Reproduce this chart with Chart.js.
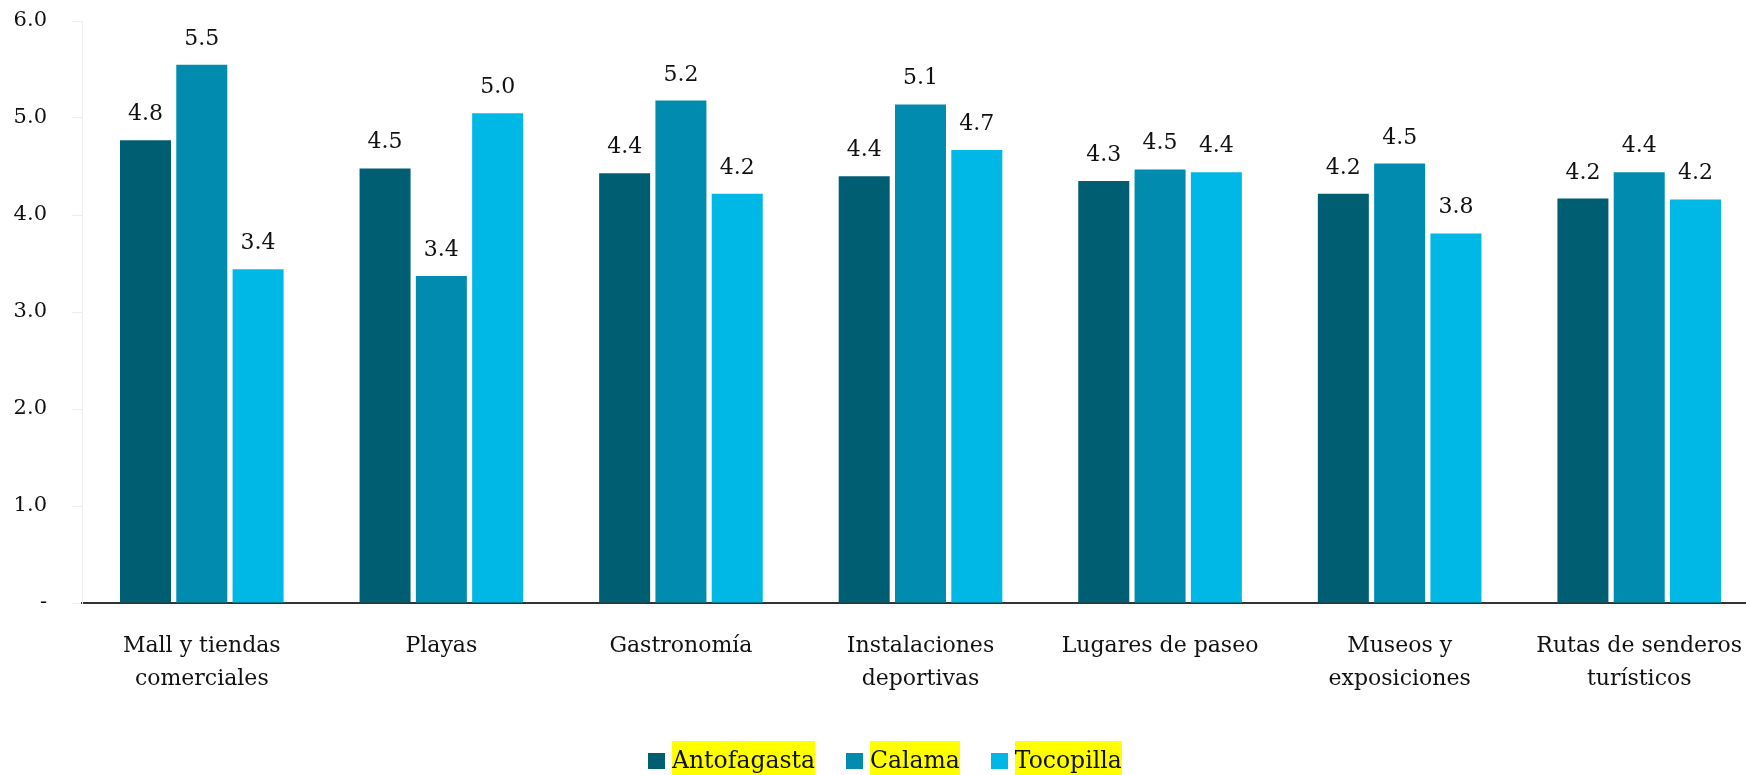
<!DOCTYPE html>
<html>
<head>
<meta charset="utf-8">
<script src="https://cdn.jsdelivr.net/npm/chart.js@4/dist/chart.umd.min.js"></script>
<style>
  html, body { margin: 0; padding: 0; background: #fff; overflow: hidden; }
  #wrap { position: relative; width: 1746px; height: 775px; overflow: hidden; }
  #c { position: absolute; left: 0; top: 0; }
  #legend { position: absolute; left: 648px; top: 741px; height: 38px; display: flex; align-items: flex-start;
            font-family: "DejaVu Serif", serif; font-size: 23.5px; color: #111; white-space: nowrap; }
  .item { display: flex; align-items: flex-start; margin-right: 31px; }
  .box { width: 17px; height: 16px; margin-right: 7px; margin-top: 12px; flex: none; }
  .txt { background: #ffff00; line-height: 38px; height: 38px; display: inline-block; }
</style>
</head>
<body>
<div id="wrap">
  <canvas id="c" width="1759" height="775"></canvas>
  <div id="legend"></div>
</div>
<script>
const categories = [
  ["Mall y tiendas", "comerciales"],
  ["Playas"],
  ["Gastronomía"],
  ["Instalaciones", "deportivas"],
  ["Lugares de paseo"],
  ["Museos y", "exposiciones"],
  ["Rutas de senderos", "turísticos"]
];
const seriesNames = ["Antofagasta", "Calama", "Tocopilla"];
const antofagasta = [4.77, 4.48, 4.43, 4.40, 4.35, 4.22, 4.17];
const calama      = [5.55, 3.37, 5.18, 5.14, 4.47, 4.53, 4.44];
const tocopilla   = [3.44, 5.05, 4.22, 4.67, 4.44, 3.81, 4.16];
const seriesColors = ["#005e73", "#008baf", "#00b8e6"];
const yTicks = [0, 1, 2, 3, 4, 5, 6];

const FONT = "DejaVu Serif";
const values = [antofagasta, calama, tocopilla];

const dataLabelPlugin = {
  id: 'dataLabels',
  afterDatasetsDraw(chart) {
    const ctx = chart.ctx;
    ctx.save();
    ctx.font = `22px "${FONT}"`;
    ctx.fillStyle = '#111';
    ctx.textAlign = 'center';
    ctx.textBaseline = 'alphabetic';
    chart.data.datasets.forEach((ds, i) => {
      chart.getDatasetMeta(i).data.forEach((bar, j) => {
        ctx.fillText(ds.data[j].toFixed(1), bar.x, bar.y - 20);
      });
    });
    ctx.restore();
  }
};

const chart = new Chart(document.getElementById('c'), {
  type: 'bar',
  data: {
    labels: categories,
    datasets: seriesNames.map((n, i) => ({
      label: n,
      data: values[i],
      backgroundColor: seriesColors[i],
      borderWidth: 0,
      categoryPercentage: 0.705,
      barPercentage: 0.906
    }))
  },
  options: {
    responsive: false,
    animation: false,
    layout: { padding: { top: 21, right: 0, bottom: 50, left: 0 } },
    plugins: { legend: { display: false }, tooltip: { enabled: false } },
    scales: {
      x: {
        grid: { display: false, drawTicks: false },
        border: { display: true, color: '#333', width: 2 },
        ticks: { color: '#111', font: { family: FONT, size: 22, lineHeight: 1.5 }, padding: 27, maxRotation: 0, autoSkip: false },
        afterFit(s) { s.height = 775 - 50 - 603; s.paddingLeft = 0; s.paddingRight = 0; }
      },
      y: {
        min: 0, max: 6,
        afterBuildTicks(s) { s.ticks = yTicks.map(v => ({ value: v })); },
        grid: { drawOnChartArea: false, drawTicks: true, tickLength: 10, color: '#eeeeee' },
        border: { display: true, color: '#eeeeee', width: 1 },
        ticks: {
          color: '#111', font: { family: FONT, size: 21 }, padding: 25,
          callback: v => v === 0 ? '-' : Number(v).toFixed(1)
        },
        afterFit(s) { s.width = 82; s.paddingTop = 0; s.paddingBottom = 0; }
      }
    }
  },
  plugins: [dataLabelPlugin]
});

// HTML legend from the chart's datasets
const leg = document.getElementById('legend');
chart.data.datasets.forEach(ds => {
  const it = document.createElement('div'); it.className = 'item';
  const b = document.createElement('span'); b.className = 'box'; b.style.background = ds.backgroundColor;
  const t = document.createElement('span'); t.className = 'txt'; t.textContent = ds.label;
  it.appendChild(b); it.appendChild(t); leg.appendChild(it);
});
</script>
</body>
</html>
